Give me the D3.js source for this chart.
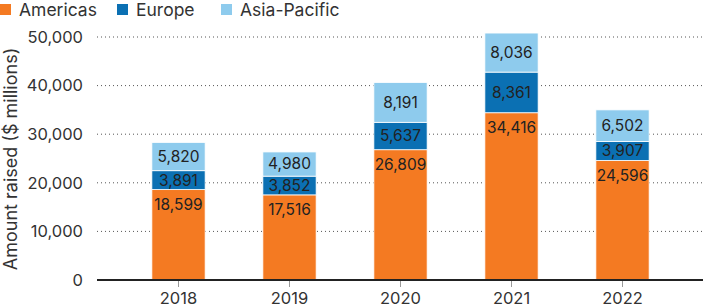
<!DOCTYPE html>
<html>
<head>
<meta charset="utf-8">
<script src="https://cdn.jsdelivr.net/npm/d3@7"></script>
<style>
  body { margin: 0; background: #fff; }
  svg { display: block; font-family: Inter, "Open Sans", sans-serif; }
</style>
</head>
<body>
<div id="chart"></div>
<script>
// Data
const years = ['2018', '2019', '2020', '2021', '2022'];
const americas = [18599, 17516, 26809, 34416, 24596];
const europe = [3891, 3852, 5637, 8361, 3907];
const asiaPacific = [5820, 4980, 8191, 8036, 6502];
const seriesNames = ['Americas', 'Europe', 'Asia-Pacific'];
const yTicks = [0, 10000, 20000, 30000, 40000, 50000];

const colors = { 'Americas': '#f47a22', 'Europe': '#0b70b3', 'Asia-Pacific': '#8ecbed' };

const totalW = 703, totalH = 308;
const margin = { top: 37, right: 0, bottom: 28, left: 97 };
const height = totalH - margin.top - margin.bottom;

const svg = d3.select('#chart').append('svg')
  .attr('width', totalW).attr('height', totalH);

const rows = years.map((y, i) => ({
  year: y, 'Americas': americas[i], 'Europe': europe[i], 'Asia-Pacific': asiaPacific[i]
}));
const stacked = d3.stack().keys(seriesNames)(rows);

const x = d3.scaleBand().domain(years).range([123, 678])
  .paddingInner(0.52).paddingOuter(0.26);
const y = d3.scaleLinear().domain([0, 50000]).range([margin.top + height, margin.top]);

// Gridlines
svg.append('g').selectAll('line').data(yTicks.filter(d => d > 0)).join('line')
  .attr('x1', margin.left).attr('x2', totalW)
  .attr('y1', d => y(d)).attr('y2', d => y(d))
  .attr('stroke', '#555').attr('stroke-width', 1)
  .attr('stroke-dasharray', '1,3');

// Y tick labels
svg.append('g').selectAll('text').data(yTicks).join('text')
  .attr('x', 83).attr('y', d => y(d)).attr('dy', '0.35em')
  .attr('text-anchor', 'end').attr('font-size', '16.5px').attr('fill', '#333')
  .text(d => d3.format(',')(d));

// Y title
svg.append('text')
  .attr('transform', 'rotate(-90)')
  .attr('x', -159).attr('y', 17)
  .attr('text-anchor', 'middle').attr('font-size', '18px').attr('fill', '#333')
  .text('Amount raised ($ millions)');

// Bars
const layers = svg.append('g').selectAll('g').data(stacked).join('g')
  .attr('fill', d => colors[d.key]);
layers.selectAll('rect').data(d => d).join('rect')
  .attr('x', d => x(d.data.year)).attr('width', x.bandwidth())
  .attr('y', d => y(d[1])).attr('height', d => y(d[0]) - y(d[1]))
  .attr('stroke', '#fff').attr('stroke-width', 0.8);

// Value labels
stacked.forEach(layer => {
  svg.append('g').selectAll('text').data(layer).join('text')
    .attr('x', d => x(d.data.year) + x.bandwidth() / 2)
    .attr('y', d => layer.key === 'Americas' ? y(d[1]) + 15 : (y(d[0]) + y(d[1])) / 2)
    .attr('dy', '0.35em')
    .attr('text-anchor', 'middle').attr('font-size', '15.5px').attr('fill', '#222')
    .text(d => d3.format(',')(d.data[layer.key]));
});

// X axis baseline + ticks
svg.append('line')
  .attr('x1', margin.left).attr('x2', totalW)
  .attr('y1', y(0)).attr('y2', y(0))
  .attr('stroke', '#222').attr('stroke-width', 2);
svg.append('g').selectAll('line').data(years).join('line')
  .attr('x1', d => x(d) + x.bandwidth() / 2).attr('x2', d => x(d) + x.bandwidth() / 2)
  .attr('y1', y(0) + 1).attr('y2', y(0) + 7)
  .attr('stroke', '#999').attr('stroke-width', 1);
svg.append('g').selectAll('text').data(years).join('text')
  .attr('x', d => x(d) + x.bandwidth() / 2).attr('y', 304)
  .attr('text-anchor', 'middle').attr('font-size', '16.5px').attr('fill', '#333')
  .text(d => d);

// Legend
const legendX = [0, 117, 221];
const legend = svg.append('g').selectAll('g').data(seriesNames).join('g')
  .attr('transform', (d, i) => `translate(${legendX[i]},4)`);
legend.append('rect').attr('width', 11).attr('height', 11).attr('fill', d => colors[d]);
legend.append('text').attr('x', 19).attr('y', 6).attr('dy', '0.35em')
  .attr('font-size', '17.5px').attr('fill', '#333').text(d => d);
</script>
</body>
</html>
